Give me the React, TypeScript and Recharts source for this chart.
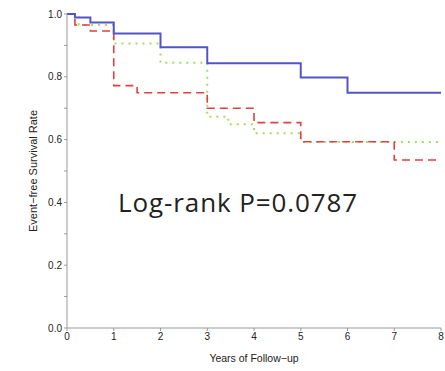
import React from "react";
import { LineChart, Line, XAxis, YAxis, Label } from "recharts";

const blueTimes = [0, 0.17, 0.5, 1, 2, 3, 5, 6, 8];
const blueSurv = [1.0, 0.989, 0.973, 0.938, 0.894, 0.843, 0.798, 0.749, 0.749];

const redTimes = [0, 0.17, 0.5, 1, 1.5, 3, 4, 5, 7, 8];
const redSurv = [1.0, 0.965, 0.946, 0.772, 0.749, 0.7, 0.654, 0.593, 0.535, 0.535];

const greenTimes = [0, 0.25, 1, 2, 3, 3.45, 4, 5, 8];
const greenSurv = [1.0, 0.965, 0.906, 0.845, 0.673, 0.649, 0.62, 0.592, 0.592];

const xTicks = [0, 1, 2, 3, 4, 5, 6, 7, 8];
const yTicks = [0, 0.1, 0.2, 0.3, 0.4, 0.5, 0.6, 0.7, 0.8, 0.9, 1.0];
const yLabelTicks = [0, 0.2, 0.4, 0.6, 0.8, 1.0];

const toData = (t: number[], s: number[]) => t.map((x, i) => ({ t: x, s: s[i] }));

const blueData = toData(blueTimes, blueSurv);
const redData = toData(redTimes, redSurv);
const greenData = toData(greenTimes, greenSurv);

const tickStyle = { fontFamily: "Liberation Sans", fontSize: 10, fill: "#222" };

export default function App() {
  return (
    <div style={{ position: "absolute", left: 0, top: 0, width: 445, height: 371, background: "#fff" }}>
      <LineChart width={445} height={371} margin={{ top: 14, right: 4, left: 0, bottom: 0 }}>
        <XAxis
          dataKey="t"
          type="number"
          domain={[0, 8]}
          ticks={xTicks}
          allowDuplicatedCategory={false}
          height={43}
          tick={tickStyle}
          tickSize={3}
          stroke="#999"
          tickLine={{ stroke: "#999" }}
        >
          <Label value="Years of Follow−up" position="insideBottom" offset={9} style={{ fontFamily: "Liberation Sans", fontSize: 10.5, fill: "#222" }} />
        </XAxis>
        <YAxis
          type="number"
          domain={[0, 1]}
          ticks={yTicks}
          interval={0}
          width={67}
          tick={tickStyle}
          tickSize={3}
          tickFormatter={(v: number) => (yLabelTicks.some((y) => Math.abs(y - v) < 1e-6) ? v.toFixed(1) : "")}
          stroke="#999"
          tickLine={{ stroke: "#999" }}
        >
          <Label value="Event−free Survival Rate" angle={-90} position="center" style={{ fontFamily: "Liberation Sans", fontSize: 11, fill: "#222", textAnchor: "middle" }} />
        </YAxis>
        <Line data={greenData} dataKey="s" type="stepAfter" stroke="#9ee060" strokeWidth={2} strokeDasharray="2 5" dot={false} isAnimationActive={false} />
        <Line data={redData} dataKey="s" type="stepAfter" stroke="#e04040" strokeWidth={1.6} strokeDasharray="8 5" dot={false} isAnimationActive={false} />
        <Line data={blueData} dataKey="s" type="stepAfter" stroke="#5454c8" strokeWidth={2} dot={false} isAnimationActive={false} />
      </LineChart>
      <div style={{ position: "absolute", left: 118, top: 185, fontFamily: "Open Sans", fontSize: 26, letterSpacing: 0.9, color: "#222", whiteSpace: "nowrap", lineHeight: "34px" }}>
        Log-rank P=0.0787
      </div>
    </div>
  );
}
